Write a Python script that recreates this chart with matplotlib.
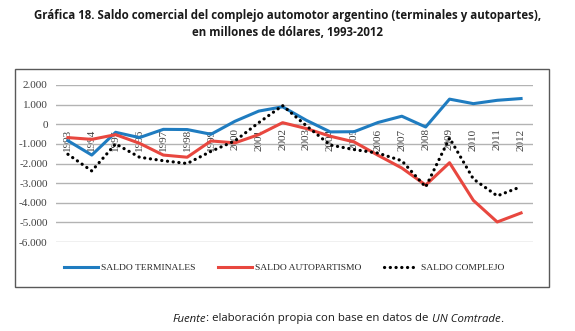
import matplotlib
matplotlib.use("Agg")
import matplotlib.pyplot as plt
from matplotlib.patches import Rectangle
import matplotlib.ticker as mticker
from matplotlib.offsetbox import TextArea, HPacker, AnchoredOffsetbox

years = [str(y) for y in range(1993, 2013)]
terminales = [-840, -1570, -410, -680, -260, -270, -510, 150, 670, 890,
              200, -390, -380, 90, 410, -140, 1280, 1050, 1220, 1310]
autopartismo = [-680, -770, -530, -970, -1570, -1680, -850, -950, -530, 80,
                -220, -610, -900, -1580, -2230, -3100, -1960, -3880, -4980, -4520]
complejo = [-1530, -2380, -1000, -1680, -1860, -2000, -1380, -850, 80, 950,
            -80, -1060, -1290, -1470, -1860, -3200, -700, -2790, -3650, -3180]
yticks = [2000, 1000, 0, -1000, -2000, -3000, -4000, -5000, -6000]
ytick_labels = ["2.000", "1.000", "0", "-1.000", "-2.000", "-3.000", "-4.000", "-5.000", "-6.000"]
series_names = ["SALDO TERMINALES", "SALDO AUTOPARTISMO", "SALDO COMPLEJO"]

W, H = 575, 331
fig = plt.figure(figsize=(W / 100, H / 100), dpi=100)
fig.patch.set_facecolor("white")

def fx(px):
    return px / W

def fy(py):
    return 1 - py / H

# title
title_font = dict(family="Open Sans", weight="bold", size=8.3, color="#1a1a1a")
fig.text(0.5, fy(15), "Gráfica 18. Saldo comercial del complejo automotor argentino (terminales y autopartes),",
         ha="center", va="center", **title_font)
fig.text(0.5, fy(33), "en millones de dólares, 1993-2012", ha="center", va="center", **title_font)

# outer frame
fig.patches.append(Rectangle((fx(15), fy(287)), fx(549) - fx(15), fy(69) - fy(287),
                             transform=fig.transFigure, fill=False, edgecolor="#595959", lw=1.0))

ax = fig.add_axes([fx(56), fy(242), fx(533) - fx(56), fy(85) - fy(242)])
x = list(range(len(years)))
ax.set_xlim(-0.5, len(years) - 0.5)
ax.set_ylim(-6000, 2000)

ax.set_yticks(yticks, ytick_labels)
ax.grid(axis="y", color="#b3b3b3", lw=1.0)
ax.set_axisbelow(True)
for s in ["top", "right", "left"]:
    ax.spines[s].set_visible(False)
ax.spines["bottom"].set_position(("data", 0))
ax.spines["bottom"].set_visible(False)
ax.set_xticks(x, years)
ax.tick_params(axis="x", length=0, pad=3, labelrotation=90, labelsize=8, labelcolor="#404040")
ax.tick_params(axis="y", length=0, pad=6, labelsize=8, labelcolor="#404040")
for lab in ax.get_xticklabels() + ax.get_yticklabels():
    lab.set_family("Liberation Serif")

l1, = ax.plot(x, terminales, color="#1f7cc0", lw=2.2, solid_joinstyle="round")
l2, = ax.plot(x, autopartismo, color="#e8473f", lw=2.2, solid_joinstyle="round")
l3, = ax.plot(x, complejo, color="black", lw=2.3, linestyle=(0, (0.05, 1.75)),
              dash_capstyle="round")

leg = fig.legend([l1, l2, l3], series_names, loc="center", bbox_to_anchor=(fx(284), fy(268)),
                 ncol=3, frameon=False, handlelength=3.6, handletextpad=0.3,
                 columnspacing=2.4, prop=dict(family="Liberation Serif", size=6.8))
for t in leg.get_texts():
    t.set_color("#262626")

# footnote with italic parts
fp = dict(family="Open Sans", size=8.2, color="#1a1a1a")
parts = [TextArea("Fuente", textprops=dict(style="italic", **fp)),
         TextArea(": elaboración propia con base en datos de ", textprops=fp),
         TextArea("UN Comtrade", textprops=dict(style="italic", **fp)),
         TextArea(".", textprops=fp)]
box = HPacker(children=parts, align="baseline", pad=0, sep=0)
anch = AnchoredOffsetbox(loc="center", child=box, pad=0, frameon=False,
                         bbox_to_anchor=(fx(338), fy(319)), bbox_transform=fig.transFigure,
                         borderpad=0)
fig.add_artist(anch)

fig.savefig("out.png", dpi=100)
